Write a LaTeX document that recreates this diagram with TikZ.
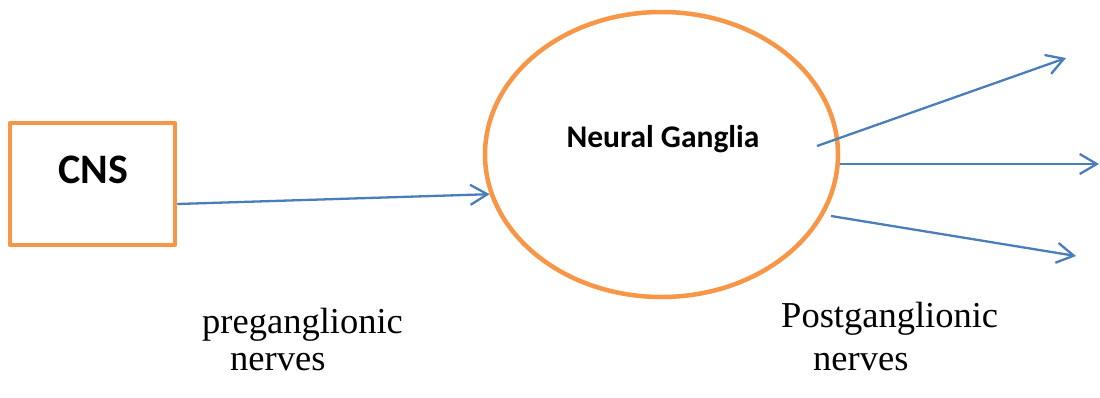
\documentclass[tikz,border=0pt]{standalone}
\usepackage{fontspec}
\setmainfont{Liberation Serif}
\newfontfamily\boxfont{Carlito}
\usetikzlibrary{arrows.meta,shapes.geometric,calc}
\definecolor{orng}{HTML}{F79646}
\definecolor{blu}{HTML}{4A7EBB}
\begin{document}
\begin{tikzpicture}[x=1pt,y=-1pt,
  orangeline/.style={draw=orng,line width=4.5pt,line join=round},
  conn/.style={draw=blu,line width=2.3pt,-{Straight Barb[length=17pt,width=20pt,line width=2.3pt]}},
  lbl/.style={font=\fontsize{36.5}{40}\selectfont,anchor=base west,inner sep=0pt}]
\useasboundingbox (0,0) rectangle (1100,397);
\node[orangeline,rectangle,minimum width=165pt,minimum height=122pt,inner sep=0pt] (cns) at (92.5,184) {};
\node[font=\boxfont\bfseries\fontsize{42}{46}\selectfont] (cnstxt) at (93,170) {CNS};
\node[orangeline,ellipse,minimum width=353pt,minimum height=285pt,inner sep=0pt] (ng) at (661.5,154.5) {};
\node[font=\boxfont\bfseries\fontsize{31.5}{35}\selectfont] (ngtxt) at (663,139) {Neural Ganglia};
\coordinate (p1s) at (817,146);
\coordinate (p1e) at (1066,58);
\coordinate (p2s) at (840,164);
\coordinate (p2e) at (1099,164);
\coordinate (p3s) at (831,216);
\coordinate (p3e) at (1076,256);
\draw[conn] ([yshift=-20pt]cns.east) -- (ng.193.6);
\draw[conn] (p1s) -- (p1e);
\draw[conn] (p2s) -- (p2e);
\draw[conn] (p3s) -- (p3e);
\node[lbl] (pre1) at (202,333) {preganglionic};
\node[lbl] (pre2) at (230,370) {nerves};
\node[lbl] (post1) at (781,327) {Postganglionic};
\node[lbl] (post2) at (813,370) {nerves};
\end{tikzpicture}
\end{document}
